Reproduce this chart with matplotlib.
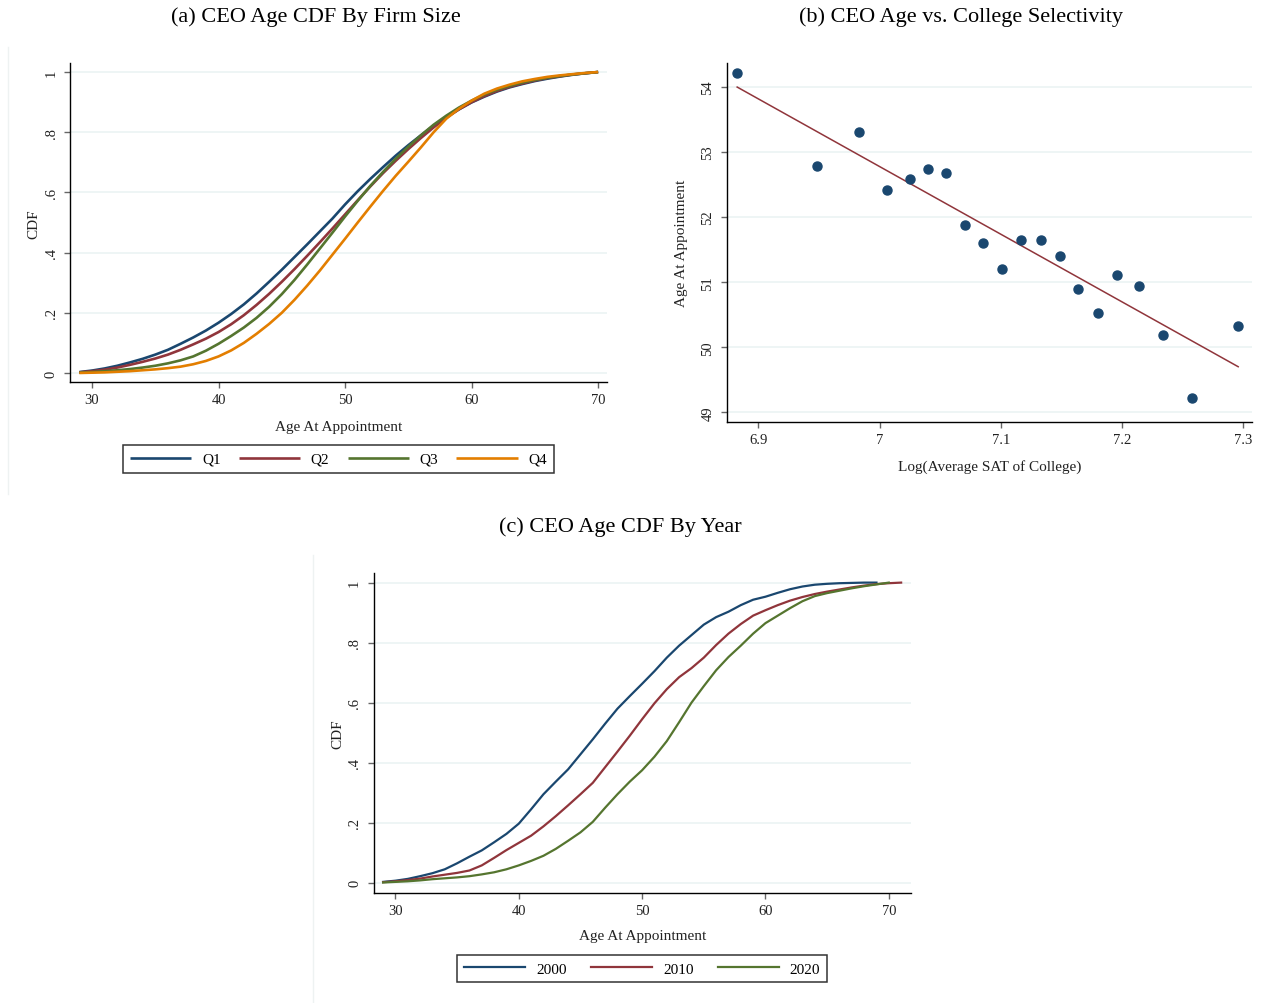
import matplotlib
matplotlib.use("Agg")
import matplotlib.pyplot as plt
from matplotlib.lines import Line2D

plt.rcParams['font.family'] = ['Liberation Serif', 'DejaVu Serif']

# ---------------- Data ----------------
ages_a = list(range(29, 71))
q1 = [0.003, 0.008, 0.015, 0.024, 0.035, 0.047, 0.061, 0.077, 0.097, 0.118, 0.141,
      0.167, 0.196, 0.228, 0.264, 0.303, 0.343, 0.385, 0.427, 0.470, 0.513, 0.560,
      0.604, 0.645, 0.684, 0.722, 0.757, 0.790, 0.822, 0.850, 0.876, 0.899, 0.918,
      0.935, 0.949, 0.960, 0.970, 0.978, 0.985, 0.991, 0.996, 1.0]
q2 = [0.002, 0.006, 0.011, 0.018, 0.027, 0.037, 0.048, 0.061, 0.077, 0.095, 0.114,
      0.136, 0.162, 0.192, 0.226, 0.263, 0.303, 0.345, 0.389, 0.434, 0.480, 0.527,
      0.574, 0.620, 0.664, 0.705, 0.744, 0.781, 0.816, 0.848, 0.876, 0.900, 0.920,
      0.937, 0.951, 0.962, 0.972, 0.980, 0.986, 0.992, 0.996, 1.0]
q3 = [0.001, 0.003, 0.006, 0.009, 0.013, 0.018, 0.024, 0.032, 0.042, 0.055, 0.074,
      0.097, 0.123, 0.151, 0.183, 0.220, 0.262, 0.309, 0.360, 0.413, 0.466, 0.520,
      0.572, 0.622, 0.668, 0.712, 0.752, 0.790, 0.825, 0.855, 0.882, 0.905, 0.925,
      0.941, 0.954, 0.965, 0.974, 0.981, 0.987, 0.992, 0.996, 1.0]
q4 = [0.000, 0.001, 0.002, 0.004, 0.006, 0.009, 0.012, 0.016, 0.021, 0.029, 0.040,
      0.055, 0.075, 0.100, 0.130, 0.163, 0.200, 0.243, 0.290, 0.340, 0.393, 0.446,
      0.500, 0.553, 0.605, 0.655, 0.702, 0.750, 0.800, 0.845, 0.878, 0.905, 0.928,
      0.945, 0.958, 0.969, 0.977, 0.984, 0.989, 0.993, 0.997, 1.0]
labels_a = ["Q1", "Q2", "Q3", "Q4"]

sat_x = [6.8824, 6.9482, 6.9827, 7.0060, 7.0249, 7.0402, 7.0551, 7.0701, 7.0850, 7.1010,
         7.1170, 7.1332, 7.1485, 7.1641, 7.1801, 7.1963, 7.2143, 7.2342, 7.2575, 7.2960]
sat_age = [54.215, 52.782, 53.314, 52.424, 52.582, 52.746, 52.680, 51.886, 51.600, 51.201,
           51.641, 51.656, 51.395, 50.888, 50.520, 51.103, 50.935, 50.187, 49.215, 50.331]
fit_x = [6.8824, 7.2960]
fit_y = [54.00, 49.70]

ages_2000 = list(range(29, 70))
cdf_2000 = [0.003, 0.007, 0.013, 0.022, 0.032, 0.045, 0.065, 0.087, 0.108, 0.135, 0.163,
            0.197, 0.245, 0.295, 0.337, 0.378, 0.428, 0.478, 0.530, 0.580, 0.622, 0.663,
            0.705, 0.750, 0.790, 0.825, 0.860, 0.885, 0.903, 0.925, 0.943, 0.953, 0.966,
            0.978, 0.987, 0.993, 0.996, 0.998, 0.999, 1.0, 1.0]
ages_2010 = list(range(29, 72))
cdf_2010 = [0.002, 0.005, 0.009, 0.014, 0.021, 0.027, 0.033, 0.041, 0.058, 0.083, 0.109,
            0.133, 0.157, 0.188, 0.222, 0.258, 0.295, 0.333, 0.385, 0.437, 0.490, 0.545,
            0.598, 0.645, 0.685, 0.715, 0.750, 0.792, 0.830, 0.862, 0.890, 0.908, 0.925,
            0.940, 0.952, 0.962, 0.970, 0.977, 0.984, 0.990, 0.995, 0.998, 1.0]
ages_2020 = list(range(29, 71))
cdf_2020 = [0.001, 0.003, 0.005, 0.008, 0.012, 0.015, 0.018, 0.022, 0.028, 0.035, 0.045,
            0.058, 0.073, 0.090, 0.113, 0.140, 0.168, 0.203, 0.250, 0.295, 0.337, 0.375,
            0.420, 0.472, 0.535, 0.600, 0.655, 0.708, 0.752, 0.790, 0.830, 0.865, 0.890,
            0.915, 0.938, 0.955, 0.965, 0.973, 0.981, 0.988, 0.994, 1.0]
labels_c = ["2000", "2010", "2020"]

cdf_ticks = [0, 0.2, 0.4, 0.6, 0.8, 1.0]
cdf_ticklabels = ["0", ".2", ".4", ".6", ".8", "1"]
age_ticks = [30, 40, 50, 60, 70]
sat_ticks = [6.9, 7.0, 7.1, 7.2, 7.3]
sat_ticklabels = ["6.9", "7", "7.1", "7.2", "7.3"]
agey_ticks = [49, 50, 51, 52, 53, 54]

# ---------------- Style ----------------
NAVY = "#1a476f"
MAROON = "#90353b"
GREEN = "#55752f"
ORANGE = "#e37e00"
GRID = "#eaf2f2"
TXT = "#222222"

W, H = 1262, 1004
fig = plt.figure(figsize=(W / 100, H / 100), dpi=100)


def box(l, r, t, b):
    return [l / W, 1 - b / H, (r - l) / W, (b - t) / H]


def style(ax, xticks, xtl, yticks, ytl, xlim, ylim):
    ax.set_xlim(*xlim)
    ax.set_ylim(*ylim)
    ax.set_xticks(xticks)
    ax.set_xticklabels(xtl)
    ax.set_yticks(yticks)
    ax.set_yticklabels(ytl, rotation=90, va="center")
    for s in ["top", "right"]:
        ax.spines[s].set_visible(False)
    for s in ["left", "bottom"]:
        ax.spines[s].set_color("black")
        ax.spines[s].set_linewidth(1.0)
    ax.tick_params(axis="both", length=4, width=1.0, color="#666666",
                   labelsize=10.5, labelcolor=TXT)
    ax.tick_params(axis="x", pad=4)
    ax.tick_params(axis="y", pad=5)
    ax.grid(axis="y", color=GRID, linewidth=1.1)
    ax.set_axisbelow(True)


# ---- (a) ----
axa = fig.add_axes(box(70, 607, 64, 383))
for y, c, lab in zip([q1, q2, q3, q4], [NAVY, MAROON, GREEN, ORANGE], labels_a):
    axa.plot(ages_a, y, color=c, lw=1.9, label=lab, solid_capstyle="butt")
style(axa, age_ticks, [str(t) for t in age_ticks], cdf_ticks, cdf_ticklabels,
      (28.26, 70.7), (-0.03, 1.03))

# ---- (b) ----
axb = fig.add_axes(box(727, 1252, 64, 423))
axb.plot(fit_x, fit_y, color=MAROON, lw=1.1, zorder=2)
axb.plot(sat_x, sat_age, linestyle="none", marker="o", markersize=6.5,
         color=NAVY, zorder=3)
style(axb, sat_ticks, sat_ticklabels, agey_ticks, [str(t) for t in agey_ticks],
      (6.874, 7.3074), (48.85, 54.37))

# ---- (c) ----
axc = fig.add_axes(box(373.5, 911, 574, 893.7))
for x, y, c, lab in zip([ages_2000, ages_2010, ages_2020], [cdf_2000, cdf_2010, cdf_2020],
                        [NAVY, MAROON, GREEN], labels_c):
    axc.plot(x, y, color=c, lw=1.6, label=lab)
style(axc, age_ticks, [str(t) for t in age_ticks], cdf_ticks, cdf_ticklabels,
      (28.22, 71.8), (-0.033, 1.032))

# ---- titles & labels ----
fig.text(316 / W, 1 - 17 / H, "(a) CEO Age CDF By Firm Size", ha="center", va="center",
         fontsize=16, color="black")
fig.text(961 / W, 1 - 17 / H, "(b) CEO Age vs. College Selectivity", ha="center", va="center",
         fontsize=16, color="black")
fig.text(620 / W, 1 - 527 / H, "(c) CEO Age CDF By Year", ha="center", va="center",
         fontsize=16, color="black")

fig.text(339 / W, 1 - 427 / H, "Age At Appointment", ha="center", va="center",
         fontsize=11, color=TXT)
fig.text(990 / W, 1 - 467 / H, "Log(Average SAT of College)", ha="center", va="center",
         fontsize=11, color=TXT)
fig.text(643 / W, 1 - 937 / H, "Age At Appointment", ha="center", va="center",
         fontsize=11, color=TXT)

fig.text(34 / W, 1 - 224 / H, "CDF", rotation=90, ha="center", va="center",
         fontsize=11, color=TXT)
fig.text(681 / W, 1 - 243 / H, "Age At Appointment", rotation=90, ha="center", va="center",
         fontsize=11, color=TXT)
fig.text(338 / W, 1 - 734 / H, "CDF", rotation=90, ha="center", va="center",
         fontsize=11, color=TXT)

# ---- legends ----
h, l = axa.get_legend_handles_labels()
lega = fig.legend(h, l, loc="center", bbox_to_anchor=(338.5 / W, 1 - 460 / H), ncol=4,
                  fontsize=11, frameon=True, fancybox=False, handlelength=4.0,
                  handletextpad=0.7, columnspacing=1.2, borderpad=0.45)
lega.get_frame().set_edgecolor("black")
lega.get_frame().set_linewidth(1.1)

h, l = axc.get_legend_handles_labels()
legc = fig.legend(h, l, loc="center", bbox_to_anchor=(642.25 / W, 1 - 969.7 / H), ncol=3,
                  fontsize=11, frameon=True, fancybox=False, handlelength=4.0,
                  handletextpad=0.7, columnspacing=1.6, borderpad=0.45)
legc.get_frame().set_edgecolor("black")
legc.get_frame().set_linewidth(1.1)

# faint graph-region borders
fig.add_artist(Line2D([8 / W, 8 / W], [1 - 48 / H, 1 - 495 / H], color="#eef2f2", lw=1))
fig.add_artist(Line2D([313 / W, 313 / W], [1 - 556 / H, 0], color="#eef2f2", lw=1))

fig.savefig("out.png", dpi=100)
